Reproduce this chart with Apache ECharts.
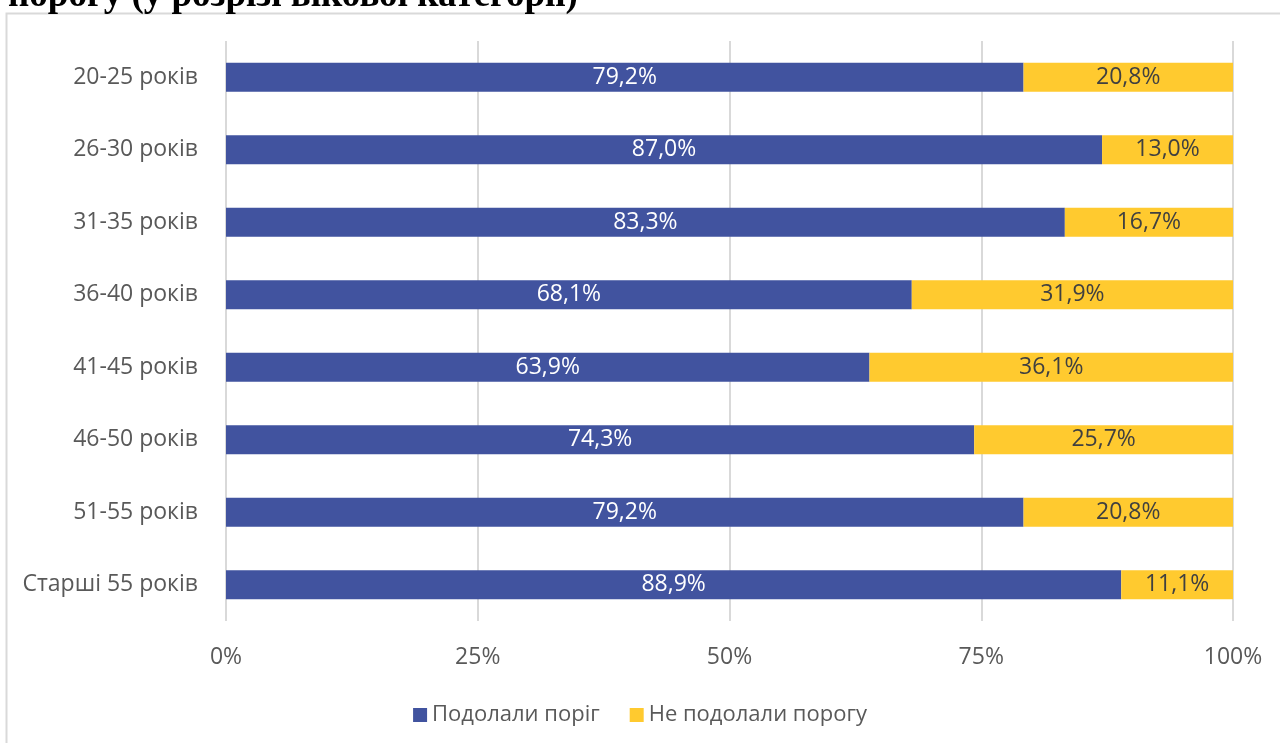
<!DOCTYPE html>
<html><head><meta charset="utf-8">
<script src="https://cdn.jsdelivr.net/npm/echarts@6/dist/echarts.min.js"></script>
<style>html,body{margin:0;padding:0;background:#fff;}#c{width:1280px;height:743px;}</style>
</head><body><div id="c"></div>
<script>
const categories = ['20-25 років','26-30 років','31-35 років','36-40 років','41-45 років','46-50 років','51-55 років','Старші 55 років'];
const passed = [79.2, 87.0, 83.3, 68.1, 63.9, 74.3, 79.2, 88.9];
const notPassed = [20.8, 13.0, 16.7, 31.9, 36.1, 25.7, 20.8, 11.1];
const seriesNames = ['Подолали поріг', 'Не подолали порогу'];
const titleText = 'порогу (у розрізі вікової категорії)';

const chart = echarts.init(document.getElementById('c'));
const fmt = p => p.value.toFixed(1).replace('.', ',') + '%';
const font = '"Open Sans", "Noto Sans", sans-serif';
chart.setOption({
  animation: false,
  graphic: [
    {type:'rect', shape:{x:6.5, y:13.5, width:1290, height:760}, style:{fill:'none', stroke:'#d9d9d9', lineWidth:2}, z:-1},
    {type:'text', left:8, top:-22, style:{text:titleText, font:'bold 37px "Liberation Serif", serif', fill:'#000'}}
  ],
  grid: {left:226, right:47, top:41, bottom:122, containLabel:false},
  legend: {
    bottom: 12, left: 'center', itemWidth: 14, itemHeight: 14, itemGap: 30, icon: 'rect',
    textStyle: {fontSize: 22, color: '#595959', fontFamily: font},
    data: seriesNames
  },
  xAxis: {
    type: 'value', min: 0, max: 100, interval: 25,
    axisLabel: {formatter: '{value}%', fontSize: 23, color: '#595959', fontFamily: font, margin: 25},
    splitLine: {lineStyle: {color: '#d9d9d9', width: 2}},
    axisLine: {show: false}, axisTick: {show: false}
  },
  yAxis: {
    type: 'category', data: categories, inverse: true,
    axisLabel: {fontSize: 23, color: '#595959', fontFamily: font, margin: 28},
    axisLine: {show: false}, axisTick: {show: false}
  },
  series: [
    {name: seriesNames[0], type: 'bar', stack: 's', data: passed, barWidth: '40%',
     itemStyle: {color: '#41539f'},
     label: {show: true, position: 'inside', formatter: fmt, color: '#fff', fontSize: 23, fontFamily: font}},
    {name: seriesNames[1], type: 'bar', stack: 's', data: notPassed, barWidth: '40%',
     itemStyle: {color: '#ffca2f'},
     label: {show: true, position: 'inside', formatter: fmt, color: '#404040', fontSize: 23, fontFamily: font}}
  ]
});
</script></body></html>
